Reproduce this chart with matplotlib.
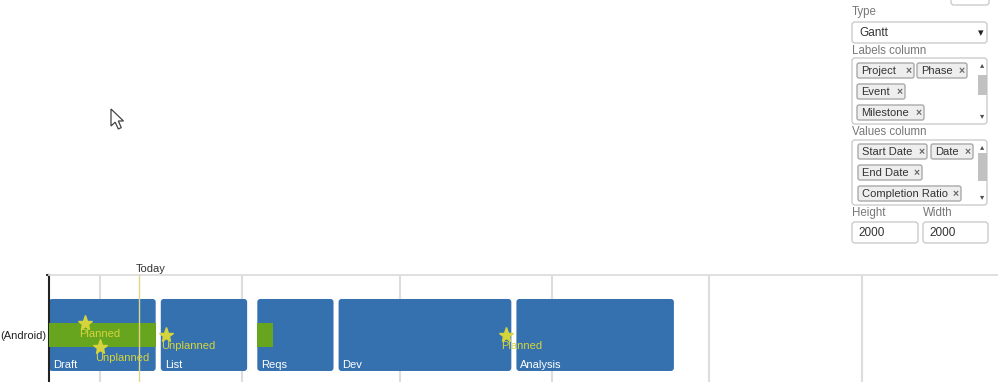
#### Gantt con hitos (Planned / Unplanned) y panel de opciones
import numpy as np
import pandas as pd
import matplotlib
matplotlib.use('Agg')
from matplotlib import pyplot as plt
import matplotlib.dates as mdates
from matplotlib.patches import FancyBboxPatch, Rectangle, Polygon

plt.rcParams['font.family'] = ['Liberation Sans', 'DejaVu Sans']

#### Datos
project = '(Android)'
phases = ['Draft', 'List', 'Reqs', 'Dev', 'Analysis']
start_dates = ['2017-01-22', '2017-02-13', '2017-03-04', '2017-03-20', '2017-04-24']
end_dates = ['2017-02-12', '2017-03-02', '2017-03-19', '2017-04-23', '2017-05-25']
completion = [1.0, 0.0, 0.2, 0.0, 0.0]

events = ['Planned', 'Unplanned', 'Unplanned', 'Planned']
event_dates = ['2017-01-29', '2017-02-01', '2017-02-14', '2017-04-22']
event_lane = [1, -1, 0, 0]

today = '2017-02-08 16:00'

### textos del panel
label_tags = ['Project', 'Phase', 'Event', 'Milestone']
value_tags = ['Start Date', 'Date', 'End Date', 'Completion Ratio']

blue = '#3571ae'
green = '#67a51f'
yellow = '#d6d43c'

def num(d):
    return mdates.date2num(pd.to_datetime(d).to_pydatetime())

fig = plt.figure(figsize=(9.98, 3.82), dpi=100)

#### capa de interfaz (coordenadas en pixeles)
ui = fig.add_axes([0, 0, 1, 1], zorder=0)
ui.set_xlim(0, 998)
ui.set_ylim(382, 0)
ui.axis('off')

def box(x, y, w, h, fc='white', ec='#cccccc', r=3, lw=1):
    ui.add_patch(FancyBboxPatch((x, y), w, h, boxstyle=f'round,pad=0,rounding_size={r}',
                                fc=fc, ec=ec, lw=lw))

def tag(x, y, w, txt):
    box(x, y, w, 15, fc='#eeeeee', ec='#aaaaaa', r=2)
    ui.text(x + 4, y + 8, txt, fontsize=8, color='#333333', va='center')
    ui.text(x + w - 8.5, y + 8, '×', fontsize=7.5, color='#666666', va='center', fontweight='bold')

def scrollbar(top, bottom, t0, t1):
    ui.add_patch(Rectangle((978, t0), 9, t1 - t0, fc='#c1c1c1', ec='none'))
    ui.text(982.5, top + 8, '▴', fontsize=6, color='#505050', ha='center', va='center')
    ui.text(982.5, bottom - 7, '▾', fontsize=6, color='#505050', ha='center', va='center')

gray_txt = '#777777'
box(951, -6, 38, 11)
ui.text(852, 12, 'Type', fontsize=8.3, color=gray_txt, va='center')
box(852, 22, 135, 21)
ui.text(859, 33, 'Gantt', fontsize=8.5, color='#333333', va='center')
ui.text(981, 33, '▾', fontsize=8, color='#222222', ha='center', va='center')

ui.text(852, 51, 'Labels column', fontsize=8.3, color=gray_txt, va='center')
box(852, 58, 135, 66)
for (x, y, w), t in zip([(857, 63, 57), (917, 63, 50), (857, 84, 48), (857, 105, 67)], label_tags):
    tag(x, y, w, t)
scrollbar(58, 124, 75, 95)

ui.text(852, 132, 'Values column', fontsize=8.3, color=gray_txt, va='center')
box(852, 140, 135, 65)
for (x, y, w), t in zip([(858, 144, 69), (931, 144, 42), (858, 165, 64), (858, 186, 103)], value_tags):
    tag(x, y, w, t)
scrollbar(140, 205, 153, 181)

ui.text(852, 213, 'Height', fontsize=8.3, color=gray_txt, va='center')
ui.text(923, 213, 'Width', fontsize=8.3, color=gray_txt, va='center')
box(852, 222, 66, 21)
box(923, 222, 65, 21)
ui.text(858, 233, '2000', fontsize=8.5, color='#333333', va='center')
ui.text(929, 233, '2000', fontsize=8.5, color='#333333', va='center')

### cursor
cur = np.array([(0, 0), (0, 17), (4.2, 13.2), (7.3, 20), (10.3, 18.6), (7.3, 12), (12.5, 12)])
ui.add_patch(Polygon(cur + [111, 109], closed=True, fc='white', ec='#444444', lw=0.9))

#### Gantt
ax = fig.add_axes([49 / 998, 0, 949 / 998, 107 / 382], zorder=1)
ax.patch.set_alpha(0)
ax.set_xlim(num('2017-01-22'), num('2017-07-27 19:00'))
ylo, yhi = -0.653, 0.833
ax.set_ylim(ylo, yhi)

px_x = 949 / (ax.get_xlim()[1] - ax.get_xlim()[0])
px_y = 107 / (yhi - ylo)
aspect = px_x / px_y

x0 = num(start_dates)
x1 = num(end_dates)
for s, e, name, c in zip(x0, x1, phases, completion):
    ax.add_patch(FancyBboxPatch((s, -0.5), e - s, 1.0,
                                boxstyle=f'round,pad=0,rounding_size={3 / px_x}',
                                mutation_aspect=aspect, fc=blue, ec='none', zorder=2))
    if c > 0:
        ax.add_patch(Rectangle((s, -0.16), (e - s) * c, 0.32, fc=green, ec='none', zorder=3))
    ax.annotate(name, (s, -0.5), xytext=(2.9, 4.3), textcoords='offset points',
                color='white', fontsize=8, va='center', ha='left', zorder=5)

ex = num(event_dates)
ey = np.array(event_lane) * 0.167
ax.plot(ex, ey, ls='none', marker='*', ms=11, color=yellow, mec=yellow, zorder=4)
for x, y, t in zip(ex, ey, events):
    ax.annotate(t, (x, y), xytext=(-3.6, -8), textcoords='offset points',
                color=yellow, fontsize=8, va='center', ha='left', zorder=5)

t = num(today)
ax.axvline(t, color='#dcd68a', lw=1, zorder=4)
ax.annotate('Today', (t, 1), xycoords=('data', 'axes fraction'), xytext=(-2.5, 1),
            textcoords='offset points', fontsize=8, color='#333333', va='bottom', ha='left')

ax.xaxis.set_major_locator(mdates.MonthLocator())
ax.grid(axis='x', color='#dddddd', lw=1.5, zorder=0)
ax.set_axisbelow(True)
ax.tick_params(axis='x', length=0, labelbottom=False)

ax.set_yticks([0])
ax.set_yticklabels([project], fontsize=8, color='#222222')
ax.tick_params(axis='y', which='major', length=0, pad=2.2)
ax.set_yticks([yhi], minor=True)
ax.tick_params(axis='y', which='minor', length=2.5, width=1.5, color='#333333')

for s in ['right', 'bottom']:
    ax.spines[s].set_visible(False)
ax.spines['top'].set_color('#dddddd')
ax.spines['top'].set_linewidth(1.3)
ax.spines['left'].set_color('#222222')
ax.spines['left'].set_linewidth(1.5)

plt.savefig('out.png', dpi=100)
